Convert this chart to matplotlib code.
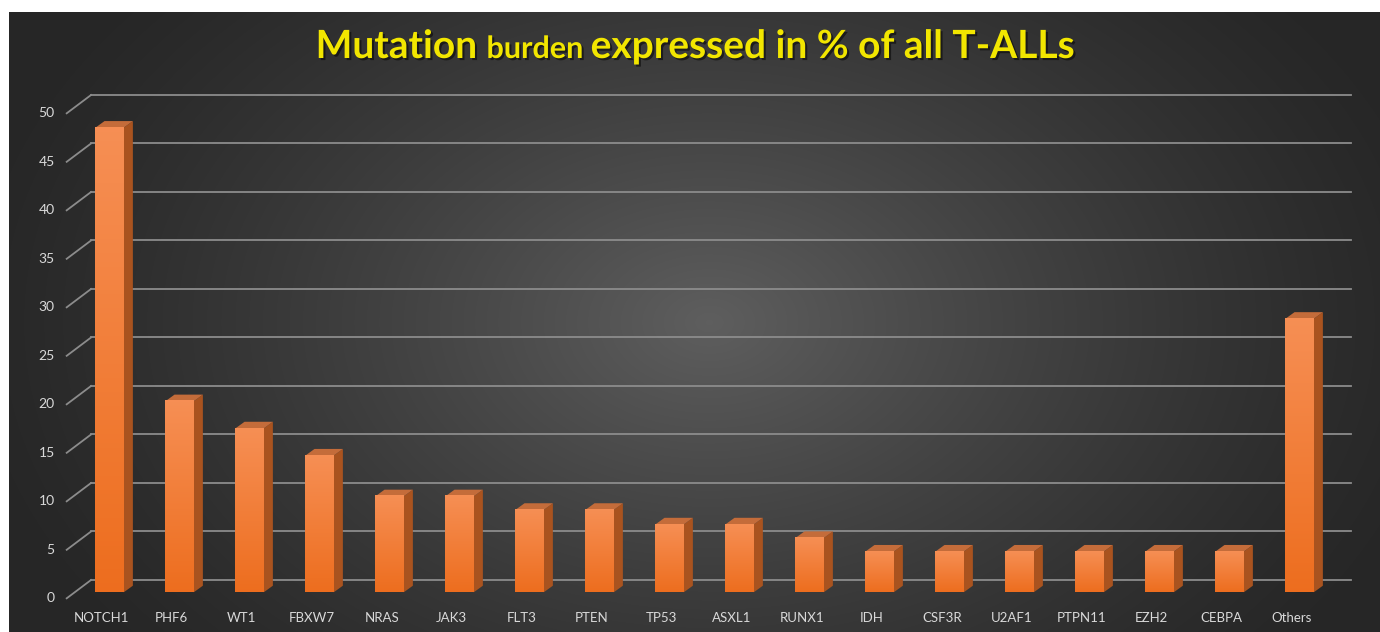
import numpy as np
import matplotlib
matplotlib.use("Agg")
import matplotlib.pyplot as plt
import matplotlib.patheffects as pe
from matplotlib.patches import Polygon

# --- data ---
genes = ["NOTCH1", "PHF6", "WT1", "FBXW7", "NRAS", "JAK3", "FLT3", "PTEN",
         "TP53", "ASXL1", "RUNX1", "IDH", "CSF3R", "U2AF1", "PTPN11", "EZH2",
         "CEBPA", "Others"]
burden = [47.9, 19.7, 16.9, 14.1, 9.9, 9.9, 8.5, 8.5,
          7.0, 7.0, 5.6, 4.2, 4.2, 4.2, 4.2, 4.2,
          4.2, 28.2]
yticks = list(range(0, 51, 5))

W, H = 1380, 632
fig = plt.figure(figsize=(W / 100, H / 100), dpi=100)
fig.patch.set_facecolor("white")

# --- dark background with soft radial highlight ---
bg = fig.add_axes([9 / W, 0, 1 - 9 / W, (H - 12) / H])
bg.set_axis_off()
yy, xx = np.mgrid[0:620, 0:1371]
d = np.sqrt(((xx - 700) / 760) ** 2 + ((yy - 310) / 520) ** 2)
shade = np.clip(1 - d, 0, 1) ** 1.3
lo, hi = np.array([0.15, 0.15, 0.15]), np.array([0.37, 0.37, 0.37])
img = lo + (hi - lo) * shade[..., None]
bg.imshow(img, aspect="auto", interpolation="bilinear")

# --- main axes: data plane = front face of the bars ---
ax = fig.add_axes([74.6 / W, (H - 592.3) / H, 1260 / W, 485 / H])
ax.set_xlim(-0.5, 17.5)
ax.set_ylim(0, 50)
ax.set_axis_off()
ax.patch.set_alpha(0)

# depth offsets (data units)
bdx, bdy = 0.235, 1.27      # back wall
fdx, fdy = -0.113, -0.62    # front edge of the floor
ddx, ddy = 0.13, 0.68       # bar depth

grid_c = "#8c8c8c"
text_c = "#d9d9d9"
for t in yticks:
    ax.plot([-0.5 + bdx, 17.5 + bdx], [t + bdy, t + bdy], color=grid_c,
            lw=1.3, clip_on=False, zorder=1)
    ax.plot([-0.5 + fdx, -0.5 + bdx], [t + fdy, t + bdy], color=grid_c,
            lw=1.3, clip_on=False, zorder=1)
    ax.text(-0.5 + fdx - 0.17, t + fdy, str(t), ha="right", va="center",
            color=text_c, fontsize=10, family="Lato")

x = np.arange(len(genes))
bw = 0.405
bars = ax.bar(x, burden, width=bw, color="#f07a2e", zorder=3, clip_on=False)

grad = np.linspace(0, 1, 100)[:, None]
top_c = np.array([0.965, 0.56, 0.33])
bot_c = np.array([0.93, 0.43, 0.12])
gimg = bot_c + (top_c - bot_c) * grad[..., None]

for xi, v, b in zip(x, burden, bars):
    l, r = xi - bw / 2, xi + bw / 2
    im = ax.imshow(gimg, extent=[l, r, 0, v], origin="lower", aspect="auto",
                   zorder=4, clip_on=False)
    im.set_clip_path(b)
    side = Polygon([(r, 0), (r + ddx, ddy), (r + ddx, v + ddy), (r, v)],
                   closed=True, facecolor="#a9531f", edgecolor="none",
                   zorder=3, clip_on=False)
    top = Polygon([(l, v), (r, v), (r + ddx, v + ddy), (l + ddx, v + ddy)],
                  closed=True, facecolor="#c46c3a", edgecolor="none",
                  zorder=3, clip_on=False)
    ax.add_patch(side)
    ax.add_patch(top)
    ax.text(xi + fdx, -2.6, genes[xi], ha="center", va="center",
            color=text_c, fontsize=9.5, family="Lato")

ax.set_xlim(-0.5, 17.5)
ax.set_ylim(0, 50)

# --- title with mixed sizes ---
fig.canvas.draw()
r = fig.canvas.get_renderer()
parts = [("Mutation ", 28), ("burden ", 22), ("expressed in % of all T-ALLs", 28)]
shadow = [pe.withSimplePatchShadow(offset=(1.5, -1.5), shadow_rgbFace="black", alpha=0.5)]
texts = []
for s, fs in parts:
    texts.append(fig.text(0, 1 - 58 / H, s, fontsize=fs, fontweight="bold",
                          family="Lato", color="#f2e600", va="baseline",
                          path_effects=shadow))
widths = [t.get_window_extent(r).width for t in texts]
x0 = 695 - sum(widths) / 2
for t, w in zip(texts, widths):
    t.set_x(x0 / W)
    x0 += w

fig.savefig("out.png", dpi=100)
